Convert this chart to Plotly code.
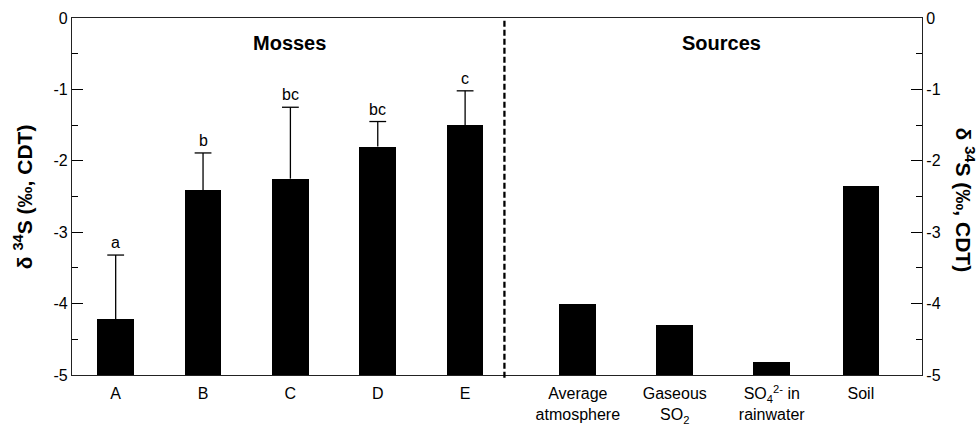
import plotly.graph_objects as go

# ---- data ----
moss_sites = ["A", "B", "C", "D", "E"]
moss_values = [-4.22, -2.41, -2.25, -1.80, -1.50]
moss_err = [0.90, 0.52, 1.00, 0.35, 0.48]
moss_letters = ["a", "b", "bc", "bc", "c"]

source_labels = ["Average<br>atmosphere", "Gaseous<br>SO<sub>2</sub>",
                 "SO<sub>4</sub><sup>2-</sup> in<br>rainwater", "Soil"]
source_values = [-4.00, -4.30, -4.82, -2.35]

y_ticks = [0, -1, -2, -3, -4, -5]
base_val = -5

# ---- layout positions (axis units) ----
moss_pos = [0.5, 1.5, 2.5, 3.5, 4.5]
source_pos = [5.79, 6.90, 8.01, 9.03]
divider_pos = 4.95
x_range = [0, 9.73]
bar_w = 0.42

FONT = "Liberation Sans, Arial, sans-serif"

fig = go.Figure()

fig.add_trace(go.Bar(
    x=moss_pos, y=[v - base_val for v in moss_values], base=base_val,
    width=bar_w, marker=dict(color="black", line=dict(width=0)),
    showlegend=False, hoverinfo="skip"))

fig.add_trace(go.Bar(
    x=source_pos, y=[v - base_val for v in source_values], base=base_val,
    width=bar_w, marker=dict(color="black", line=dict(width=0)),
    showlegend=False, hoverinfo="skip"))

# error whiskers (upper only)
wx, wy = [], []
for p, v, e in zip(moss_pos, moss_values, moss_err):
    wx += [p, p, None]
    wy += [v, v + e, None]
fig.add_trace(go.Scatter(x=wx, y=wy, mode="lines",
                         line=dict(color="black", width=1.3),
                         showlegend=False, hoverinfo="skip"))
# caps
fig.add_trace(go.Scatter(
    x=moss_pos, y=[v + e for v, e in zip(moss_values, moss_err)], mode="markers",
    marker=dict(symbol="line-ew", size=12, color="black",
                line=dict(color="black", width=1.3)),
    showlegend=False, hoverinfo="skip"))

# dummy trace for right axis
fig.add_trace(go.Scatter(x=[moss_pos[0]], y=[base_val], yaxis="y2",
                         mode="markers", marker=dict(opacity=0),
                         showlegend=False, hoverinfo="skip"))

# divider
fig.add_shape(type="line", xref="x", yref="paper", x0=divider_pos, x1=divider_pos,
              y0=-0.008, y1=1, line=dict(color="black", width=2.3, dash="6px,3px"))

axis_common = dict(
    range=[-5, 0], tickvals=y_ticks, ticktext=[str(t) for t in y_ticks],
    ticks="inside", ticklen=11, tickwidth=1, tickcolor="black",
    showline=True, linecolor="#222", linewidth=1.3, showgrid=False, zeroline=False,
    automargin=False,
    tickfont=dict(family=FONT, size=16, color="black"),
    minor=dict(dtick=0.5, tick0=0, ticks="inside", ticklen=6, tickcolor="black", tickwidth=1),
)

letter_annotations = [
    dict(text=t, xref="x", yref="y", x=p, y=v + e, xanchor="center", yanchor="bottom",
         yshift=2, showarrow=False, font=dict(family=FONT, size=16, color="black"))
    for p, v, e, t in zip(moss_pos, moss_values, moss_err, moss_letters)
]

fig.update_layout(
    width=978, height=428,
    margin=dict(l=72, r=56, t=18, b=53),
    paper_bgcolor="white", plot_bgcolor="white",
    bargap=0,
    xaxis=dict(range=x_range, tickvals=moss_pos + source_pos,
               ticktext=moss_sites + source_labels, ticks="",
               showline=True, mirror=True, linecolor="#222", linewidth=1.3,
               showgrid=False, zeroline=False, ticklabelstandoff=4, automargin=False,
               tickfont=dict(family=FONT, size=16, color="black")),
    yaxis=dict(side="left", **axis_common),
    yaxis2=dict(side="right", overlaying="y", **axis_common),
    font=dict(family=FONT, color="black"),
    annotations=letter_annotations + [
        dict(text="<b>δ <sup>34</sup>S (‰, CDT)</b>", xref="paper", yref="paper",
             x=-0.058, y=0.5, xanchor="center", yanchor="middle", textangle=-90,
             showarrow=False, font=dict(family=FONT, size=21, color="black")),
        dict(text="<b>δ <sup>34</sup>S (‰, CDT)</b>", xref="paper", yref="paper",
             x=1.05, y=0.49, xanchor="center", yanchor="middle", textangle=90,
             showarrow=False, font=dict(family=FONT, size=21, color="black")),
        dict(text="<b>Mosses</b>", xref="x", yref="paper", x=2.49, y=0.93,
             xanchor="center", yanchor="middle",
             showarrow=False, font=dict(family=FONT, size=20, color="black")),
        dict(text="<b>Sources</b>", xref="x", yref="paper", x=7.44, y=0.93,
             xanchor="center", yanchor="middle",
             showarrow=False, font=dict(family=FONT, size=20, color="black")),
    ],
)

fig.write_html("out.html")
